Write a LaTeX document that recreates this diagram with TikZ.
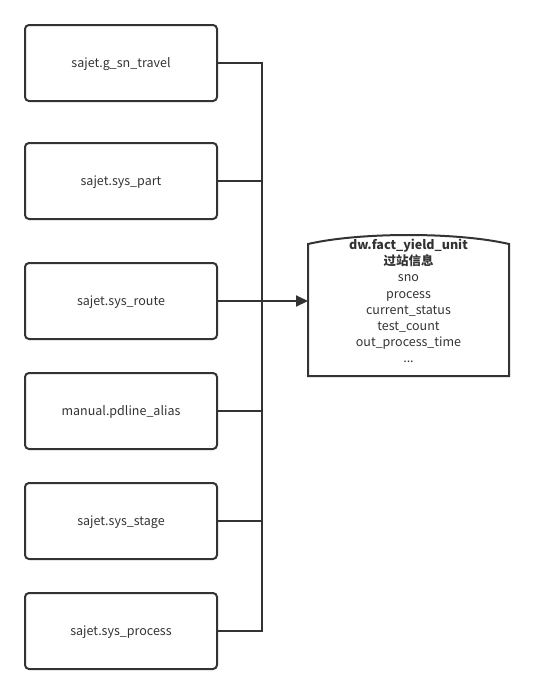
\documentclass[tikz,border=0pt]{standalone}
\usepackage{fontspec}
\setmainfont{Noto Sans CJK SC}
\usepackage{xcolor}
\usetikzlibrary{arrows.meta, positioning}

\definecolor{linegray}{HTML}{333333}

\tikzset{
    srcbox/.style={draw=linegray, line width=2pt, rounded corners=4pt,
        minimum width=192pt, minimum height=76pt, text=linegray,
        font=\fontsize{12.5pt}{14pt}\selectfont, inner sep=0pt,
        text depth=-1pt},
    link/.style={draw=linegray, line width=2pt},
}

\begin{document}
\begin{tikzpicture}[x=1pt, y=-1pt]
    \useasboundingbox (0,0) rectangle (533,694);

    % Source tables
    \node[srcbox] (b1) at (121,63)  {sajet.g\_sn\_travel};
    \node[srcbox] (b2) at (121,181) {sajet.sys\_part};
    \node[srcbox] (b3) at (121,301) {sajet.sys\_route};
    \node[srcbox] (b4) at (121,411) {manual.pdline\_alias};
    \node[srcbox] (b5) at (121,521) {sajet.sys\_stage};
    \node[srcbox] (b6) at (121,631) {sajet.sys\_process};

    % Target table
    \draw[link] (308,376) -- (308,244) .. controls (360,232) and (457,232) .. (509,244)
        -- (509,376) -- cycle;
    \coordinate (tgt) at (308,301);
    \node[text=linegray, align=center, font=\fontsize{12.5pt}{16.2pt}\selectfont, anchor=north]
        (fyu) at (408.5,235.5) {\textbf{dw.fact\_yield\_unit}\\\textbf{过站信息}\\sno\\process\\
        current\_status\\test\_count\\out\_process\_time\\...};

    % Bus line
    \coordinate (bus) at (262,0);
    \draw[link] (b1.east) -| (bus |- b6.east) -- (b6.east);
    \foreach \b in {b2,b3,b4,b5}
        \draw[link] (\b.east) -- (\b.east -| bus);
    \draw[link, -{Triangle[length=12pt, width=11pt]}] (b3.east) -- (tgt);
\end{tikzpicture}
\end{document}
